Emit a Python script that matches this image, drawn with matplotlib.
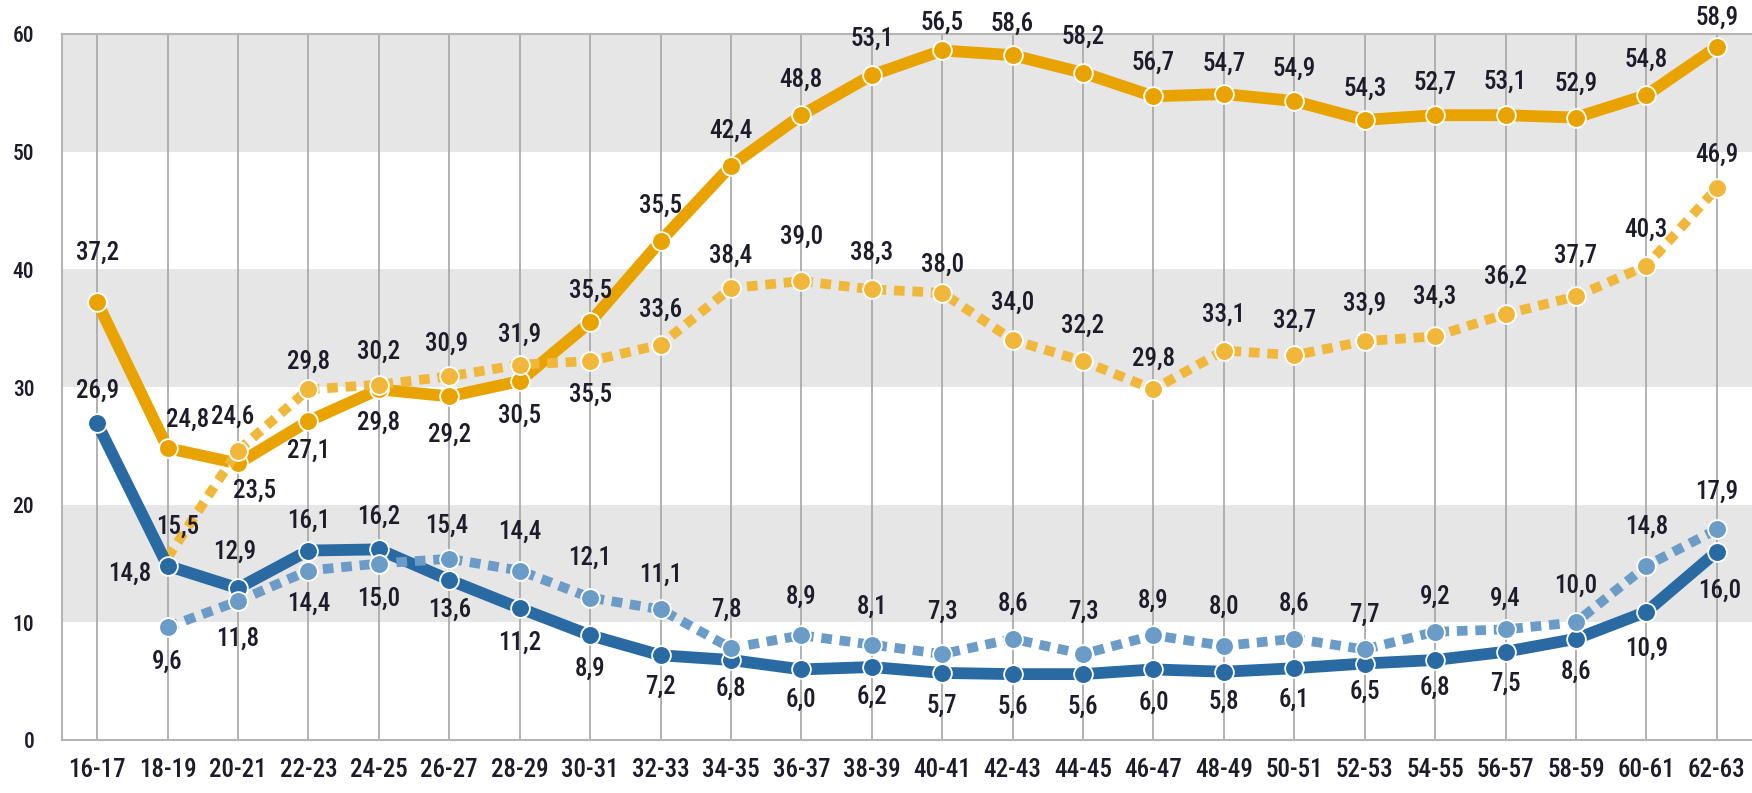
import numpy as np
import matplotlib.pyplot as plt

# age groups and the four series
ages = ['16-17', '18-19', '20-21', '22-23', '24-25', '26-27', '28-29', '30-31',
        '32-33', '34-35', '36-37', '38-39', '40-41', '42-43', '44-45', '46-47',
        '48-49', '50-51', '52-53', '54-55', '56-57', '58-59', '60-61', '62-63']

orange_solid = [37.2, 24.8, 23.5, 27.1, 29.8, 29.2, 30.5, 35.5, 42.4, 48.8, 53.1, 56.5,
                58.6, 58.2, 56.7, 54.7, 54.9, 54.3, 52.7, 53.1, 53.1, 52.9, 54.8, 58.9]
orange_solid_text = ['37,2', '24,8', '23,5', '27,1', '29,8', '29,2', '30,5', '35,5',
                     '35,5', '42,4', '48,8', '53,1', '56,5', '58,6', '58,2', '56,7',
                     '54,7', '54,9', '54,3', '52,7', '53,1', '52,9', '54,8', '58,9']

orange_dot = [np.nan, 15.5, 24.6, 29.8, 30.2, 30.9, 31.9, 32.2, 33.6, 38.4, 39.0, 38.3,
              38.0, 34.0, 32.2, 29.8, 33.1, 32.7, 33.9, 34.3, 36.2, 37.7, 40.3, 46.9]
orange_dot_text = [None, '15,5', '24,6', '29,8', '30,2', '30,9', '31,9', '35,5',
                   '33,6', '38,4', '39,0', '38,3', '38,0', '34,0', '32,2', '29,8',
                   '33,1', '32,7', '33,9', '34,3', '36,2', '37,7', '40,3', '46,9']

blue_solid = [26.9, 14.8, 12.9, 16.1, 16.2, 13.6, 11.2, 8.9, 7.2, 6.8, 6.0, 6.2,
              5.7, 5.6, 5.6, 6.0, 5.8, 6.1, 6.5, 6.8, 7.5, 8.6, 10.9, 16.0]

blue_dot = [np.nan, 9.6, 11.8, 14.4, 15.0, 15.4, 14.4, 12.1, 11.1, 7.8, 8.9, 8.1,
            7.3, 8.6, 7.3, 8.9, 8.0, 8.6, 7.7, 9.2, 9.4, 10.0, 14.8, 17.9]

def fmt(v):
    return None if np.isnan(v) else ('%.1f' % v).replace('.', ',')

blue_solid_text = [fmt(v) for v in blue_solid]
blue_dot_text = [fmt(v) for v in blue_dot]

# label offsets in pixels (dx, dy), dy > 0 puts the label above the point
off_orange_solid = [(0, 50), (20, 28), (17, -27), (0, -30), (0, -33), (0, -38), (0, -35), (0, 32),
                    (0, 35), (0, 35), (0, 35), (0, 36), (0, 28), (0, 31), (0, 36), (0, 34),
                    (0, 30), (0, 32), (0, 31), (0, 32), (0, 33), (0, 34), (0, 35), (0, 29)]
off_orange_dot = [None, (10, 31), (-5, 34), (0, 28), (0, 33), (-3, 33), (0, 30), (0, -34),
                  (0, 35), (0, 32), (0, 44), (0, 37), (0, 28), (0, 37), (0, 35), (0, 31),
                  (0, 36), (0, 34), (0, 37), (0, 40), (0, 37), (0, 41), (0, 36), (0, 33)]
off_blue_solid = [(0, 33), (-38, -8), (-3, 36), (0, 30), (0, 33), (0, -30), (0, -35), (0, -33),
                  (0, -31), (0, -29), (0, -30), (0, -30), (0, -33), (0, -33), (0, -33), (0, -33),
                  (0, -30), (0, -32), (0, -28), (0, -28), (0, -32), (0, -33), (0, -37), (3, -39)]
off_blue_dot = [None, (0, -35), (0, -38), (0, -33), (0, -35), (-3, 33), (0, 39), (0, 40),
                (0, 35), (-5, 38), (0, 39), (0, 38), (0, 42), (0, 35), (0, 42), (0, 35),
                (0, 39), (0, 35), (0, 35), (0, 35), (0, 31), (0, 37), (0, 39), (0, 38)]

FONT = ['Roboto Condensed', 'IBM Plex Sans Condensed', 'DejaVu Sans']
TXT = '#1c1c2a'

fig = plt.figure(figsize=(17.52, 7.93), dpi=100)
ax = fig.add_axes([62 / 1752, 53 / 793, 1690 / 1752, 706 / 793])

x = np.arange(len(ages))

# grey bands and vertical grid
for lo in (10, 30, 50):
    ax.axhspan(lo, lo + 10, color='#e6e6e6', lw=0, zorder=0)
ax.vlines(x, 0, 60, color='#ababab', lw=1.3, zorder=1)

ax.plot(x, orange_solid, color='#e9a300', lw=8.5, marker='o', ms=13.5,
        mfc='#e9a300', mec='white', mew=1.3, zorder=3)
# the first dotted orange point sits under the blue marker, so no marker there
ax.plot(x, orange_dot, color='#f0b73a', lw=7, ls=(0, (1.1, 0.8)), dash_capstyle='butt',
        marker='o', ms=13.5, mfc='#f0b73a', mec='white', mew=1.3, zorder=4,
        markevery=list(range(2, len(ages))))
ax.plot(x, blue_solid, color='#2a6aa3', lw=8.5, marker='o', ms=13.5,
        mfc='#2a6aa3', mec='white', mew=1.3, zorder=5)
ax.plot(x, blue_dot, color='#6b9cc7', lw=7, ls=(0, (1.1, 0.8)), dash_capstyle='butt',
        marker='o', ms=13.5, mfc='#6b9cc7', mec='white', mew=1.3, zorder=6)

def put_labels(vals, texts, offs):
    for i, (v, t, o) in enumerate(zip(vals, texts, offs)):
        if t is None:
            continue
        ax.annotate(t, (x[i], v), xytext=o, textcoords='offset pixels',
                    ha='center', va='center', fontsize=18, color=TXT,
                    family=FONT, weight='medium', zorder=8)

put_labels(orange_solid, orange_solid_text, off_orange_solid)
put_labels(orange_dot, orange_dot_text, off_orange_dot)
put_labels(blue_solid, blue_solid_text, off_blue_solid)
put_labels(blue_dot, blue_dot_text, off_blue_dot)

ax.set_xlim(-0.5, len(ages) - 0.5)
ax.set_ylim(0, 60)
ax.set_yticks(range(0, 61, 10))
ax.set_xticks(x)
ax.set_xticklabels(ages, family=FONT, fontsize=18, color=TXT, weight='medium')
for lab in ax.get_yticklabels():
    lab.set_family(FONT)
    lab.set_fontsize(15.5)
    lab.set_color(TXT)
    lab.set_weight('medium')
ax.tick_params(length=0)
ax.tick_params(axis='x', pad=13)
ax.tick_params(axis='y', pad=20)

for side in ('left', 'bottom', 'top'):
    ax.spines[side].set_color('#b5b5b5')
    ax.spines[side].set_linewidth(1.5)
ax.spines['right'].set_visible(False)

fig.savefig('out.png', dpi=100)
